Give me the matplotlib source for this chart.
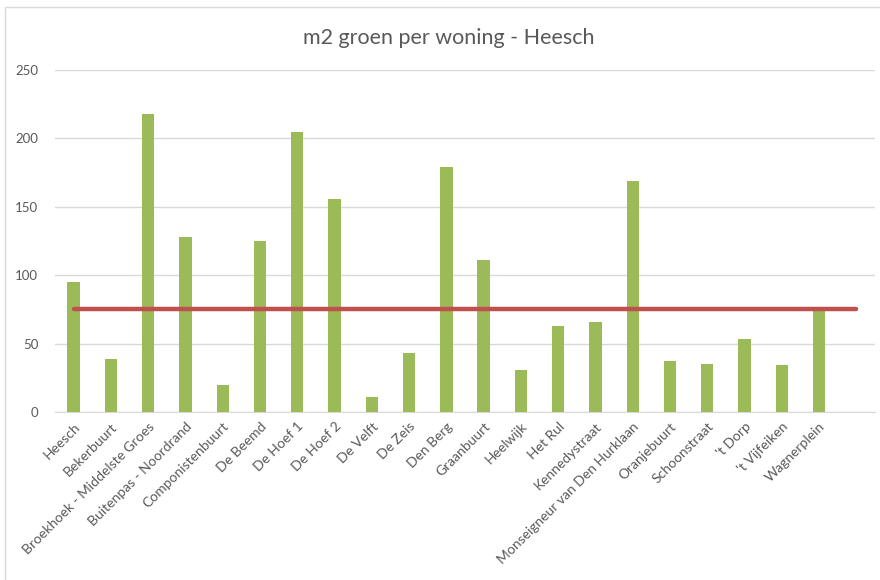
import matplotlib
matplotlib.use('Agg')
import matplotlib.pyplot as plt
from matplotlib.patches import Rectangle
import numpy as np

# buurten (last slot is empty in the original sheet)
buurten = ['Heesch', 'Bekerbuurt', 'Broekhoek - Middelste Groes',
           'Buitenpas - Noordrand', 'Componistenbuurt', 'De Beemd',
           'De Hoef 1', 'De Hoef 2', 'De Velft', 'De Zeis', 'Den Berg',
           'Graanbuurt', 'Heelwijk', 'Het Rul', 'Kennedystraat',
           'Monseigneur van Den Hurklaan', 'Oranjebuurt', 'Schoonstraat',
           "'t Dorp", "'t Vijfeiken", 'Wagnerplein', '']

# m2 groen per woning
groen = [95, 39, 218, 128, 20, 125, 205, 156, 11, 43, 179, 111,
         31, 63, 66, 169, 37, 35, 53, 34, 74, np.nan]

# norm line
norm = [75] * len(buurten)

yticks = [0, 50, 100, 150, 200, 250]

plt.rcParams['font.family'] = ['Lato', 'DejaVu Sans']
txt_col = '#595959'
grid_col = '#D9D9D9'

fig = plt.figure(figsize=(8.8, 5.8), dpi=100)
# chart border
fig.patches.append(Rectangle((5 / 880, -0.01), 1.0, 1 - 7 / 580 + 0.01,
                             transform=fig.transFigure, fill=False,
                             edgecolor='#D9D9D9', linewidth=1.0))

ax = fig.add_axes([55 / 880, 1 - 412 / 580, 820 / 880, 342 / 580])
x = np.arange(len(buurten))
ax.bar(x, groen, width=0.33, color='#9BBB59', zorder=3)
ax.plot(x, norm, color='#C0504D', linewidth=3.2, solid_capstyle='round', zorder=4)

ax.set_xlim(-0.5, len(buurten) - 0.5)
ax.set_ylim(0, 250)
ax.set_yticks(yticks)
ax.yaxis.grid(True, color=grid_col, linewidth=1.0, zorder=0)
ax.set_axisbelow(True)
for s in ['left', 'right', 'top']:
    ax.spines[s].set_visible(False)
ax.spines['bottom'].set_color(grid_col)
ax.tick_params(axis='both', length=0, colors=txt_col)
ax.tick_params(axis='y', pad=12, labelsize=9.5)

ax.set_xticks(x)
ax.set_xticklabels(buurten, rotation=45, ha='right', rotation_mode='anchor',
                   fontsize=10, color=txt_col)
ax.tick_params(axis='x', pad=6)

fig.text(0.51, 1 - 38 / 580, 'm2 groen per woning - Heesch', ha='center',
         va='center', fontsize=15.5, color=txt_col)

fig.savefig('out.png', dpi=100)
